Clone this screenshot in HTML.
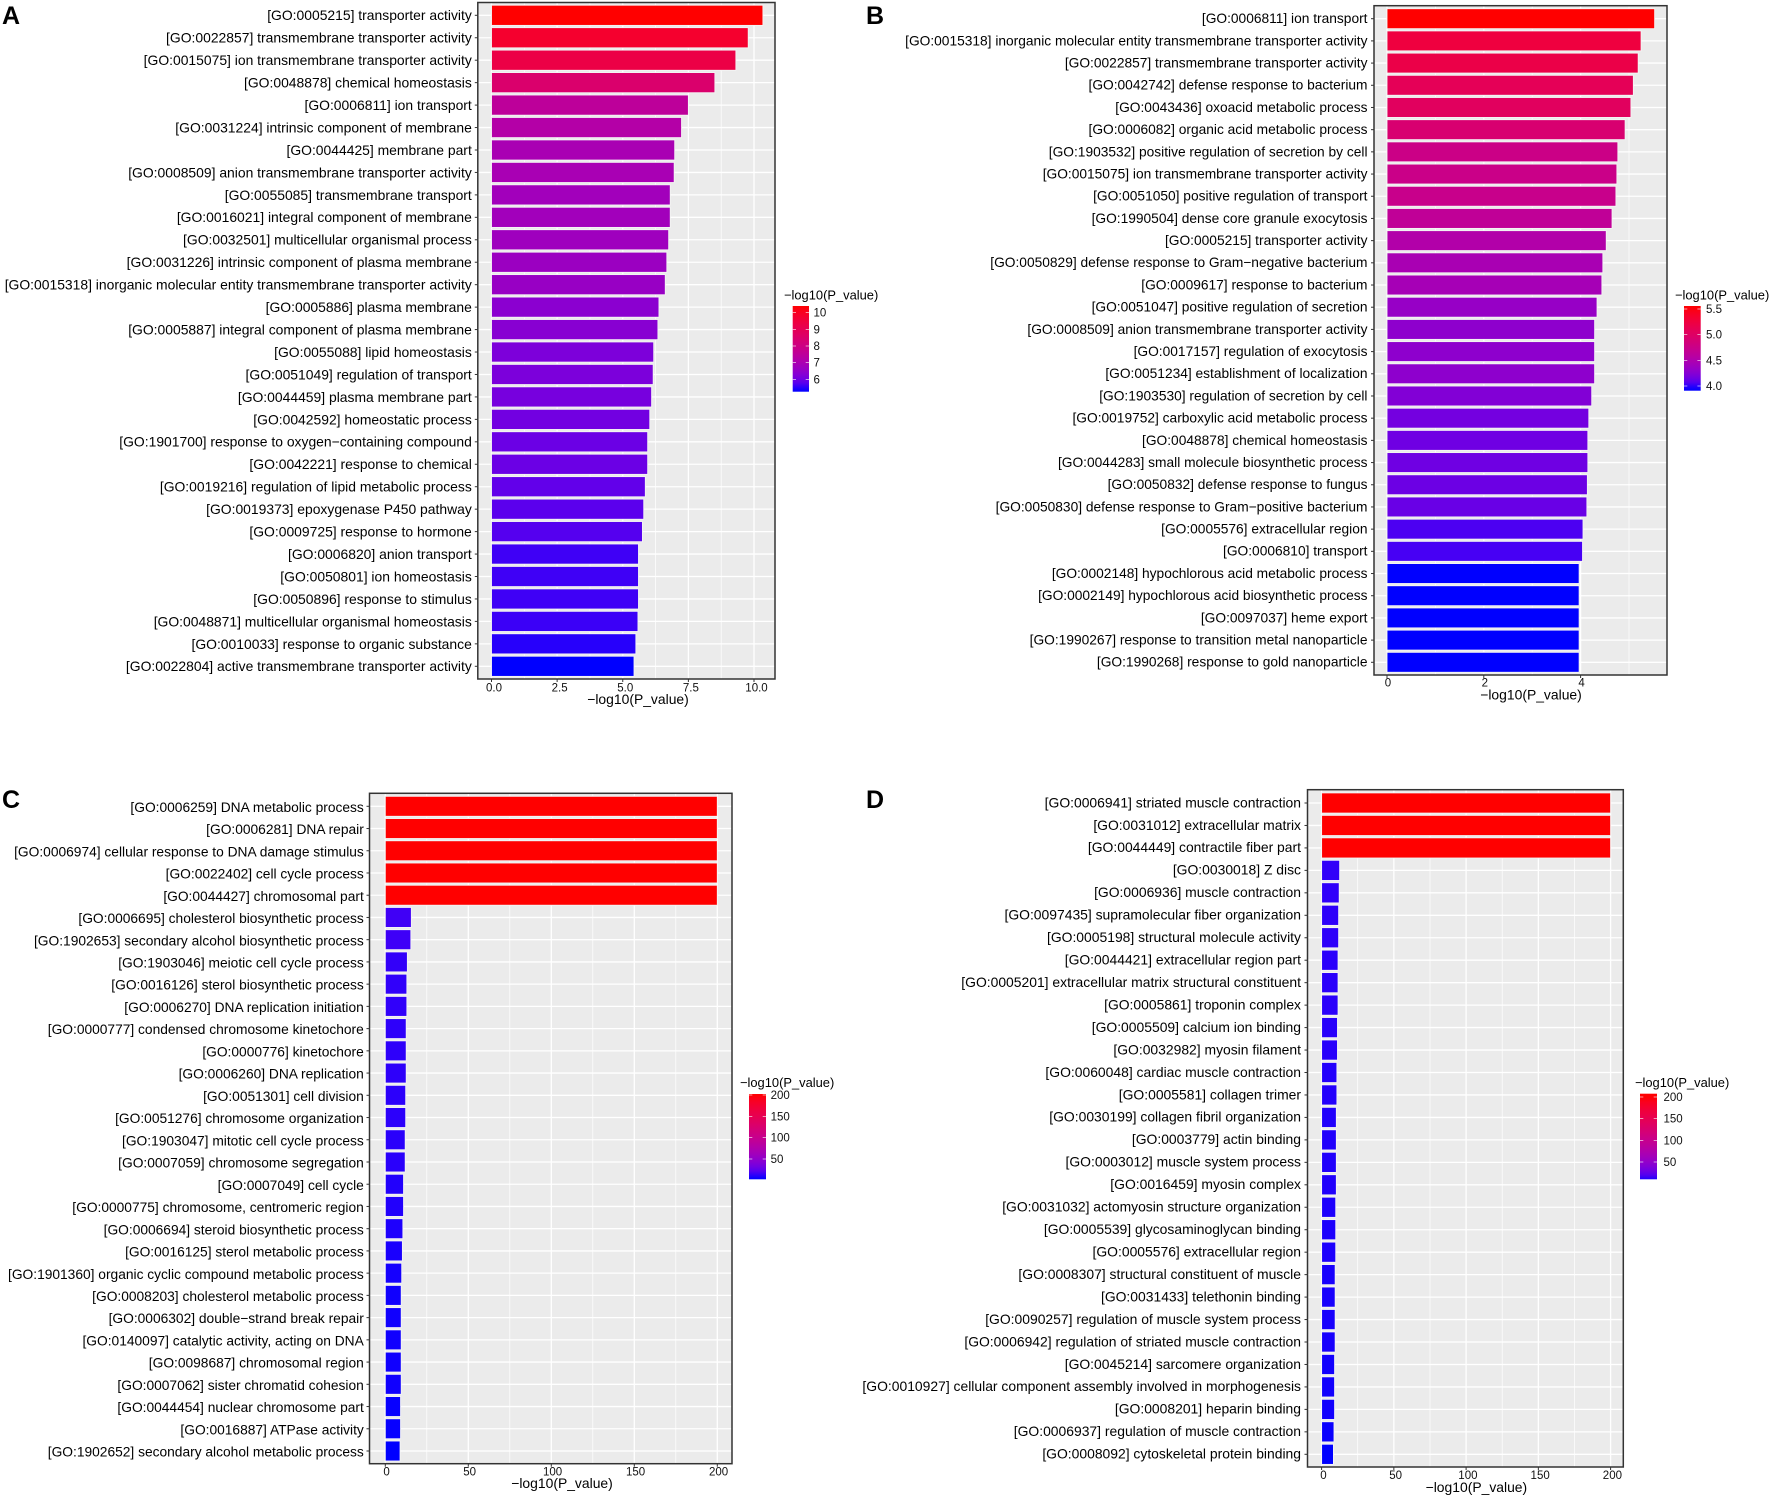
<!DOCTYPE html>
<html lang="en">
<head>
<meta charset="utf-8">
<title>GO enrichment bar charts</title>
<style>
html,body{margin:0;padding:0;background:#fff;}
body{width:1772px;height:1499px;overflow:hidden;}
svg{display:block;font-family:"Liberation Sans",Arial,sans-serif;}
</style>
</head>
<body>
<svg id="figure" xmlns="http://www.w3.org/2000/svg" width="1772" height="1499" viewBox="0 0 1772 1499">
<rect x="0" y="0" width="1772" height="1499" fill="#ffffff"/>
<defs id="gradients"></defs>
</svg>
<script>
const categoriesA = ["[GO:0005215] transporter activity","[GO:0022857] transmembrane transporter activity","[GO:0015075] ion transmembrane transporter activity","[GO:0048878] chemical homeostasis","[GO:0006811] ion transport","[GO:0031224] intrinsic component of membrane","[GO:0044425] membrane part","[GO:0008509] anion transmembrane transporter activity","[GO:0055085] transmembrane transport","[GO:0016021] integral component of membrane","[GO:0032501] multicellular organismal process","[GO:0031226] intrinsic component of plasma membrane","[GO:0015318] inorganic molecular entity transmembrane transporter activity","[GO:0005886] plasma membrane","[GO:0005887] integral component of plasma membrane","[GO:0055088] lipid homeostasis","[GO:0051049] regulation of transport","[GO:0044459] plasma membrane part","[GO:0042592] homeostatic process","[GO:1901700] response to oxygen−containing compound","[GO:0042221] response to chemical","[GO:0019216] regulation of lipid metabolic process","[GO:0019373] epoxygenase P450 pathway","[GO:0009725] response to hormone","[GO:0006820] anion transport","[GO:0050801] ion homeostasis","[GO:0050896] response to stimulus","[GO:0048871] multicellular organismal homeostasis","[GO:0010033] response to organic substance","[GO:0022804] active transmembrane transporter activity"];
const valuesA = [10.34,9.78,9.31,8.51,7.5,7.24,6.98,6.96,6.81,6.81,6.75,6.68,6.62,6.38,6.34,6.18,6.16,6.10,6.03,5.95,5.95,5.86,5.80,5.75,5.60,5.60,5.60,5.58,5.50,5.43];
const xTicksA = [0,2.5,5,7.5,10];
const legendTicksA = [10,9,8,7,6];

const categoriesB = ["[GO:0006811] ion transport","[GO:0015318] inorganic molecular entity transmembrane transporter activity","[GO:0022857] transmembrane transporter activity","[GO:0042742] defense response to bacterium","[GO:0043436] oxoacid metabolic process","[GO:0006082] organic acid metabolic process","[GO:1903532] positive regulation of secretion by cell","[GO:0015075] ion transmembrane transporter activity","[GO:0051050] positive regulation of transport","[GO:1990504] dense core granule exocytosis","[GO:0005215] transporter activity","[GO:0050829] defense response to Gram−negative bacterium","[GO:0009617] response to bacterium","[GO:0051047] positive regulation of secretion","[GO:0008509] anion transmembrane transporter activity","[GO:0017157] regulation of exocytosis","[GO:0051234] establishment of localization","[GO:1903530] regulation of secretion by cell","[GO:0019752] carboxylic acid metabolic process","[GO:0048878] chemical homeostasis","[GO:0044283] small molecule biosynthetic process","[GO:0050832] defense response to fungus","[GO:0050830] defense response to Gram−positive bacterium","[GO:0005576] extracellular region","[GO:0006810] transport","[GO:0002148] hypochlorous acid metabolic process","[GO:0002149] hypochlorous acid biosynthetic process","[GO:0097037] heme export","[GO:1990267] response to transition metal nanoparticle","[GO:1990268] response to gold nanoparticle"];
const valuesB = [5.53,5.25,5.19,5.09,5.04,4.92,4.77,4.75,4.73,4.65,4.53,4.46,4.44,4.34,4.29,4.29,4.29,4.23,4.17,4.15,4.15,4.14,4.13,4.05,4.04,3.97,3.97,3.97,3.97,3.97];
const xTicksB = [0,2,4];
const legendTicksB = [5.5,5,4.5,4];

const categoriesC = ["[GO:0006259] DNA metabolic process","[GO:0006281] DNA repair","[GO:0006974] cellular response to DNA damage stimulus","[GO:0022402] cell cycle process","[GO:0044427] chromosomal part","[GO:0006695] cholesterol biosynthetic process","[GO:1902653] secondary alcohol biosynthetic process","[GO:1903046] meiotic cell cycle process","[GO:0016126] sterol biosynthetic process","[GO:0006270] DNA replication initiation","[GO:0000777] condensed chromosome kinetochore","[GO:0000776] kinetochore","[GO:0006260] DNA replication","[GO:0051301] cell division","[GO:0051276] chromosome organization","[GO:1903047] mitotic cell cycle process","[GO:0007059] chromosome segregation","[GO:0007049] cell cycle","[GO:0000775] chromosome, centromeric region","[GO:0006694] steroid biosynthetic process","[GO:0016125] sterol metabolic process","[GO:1901360] organic cyclic compound metabolic process","[GO:0008203] cholesterol metabolic process","[GO:0006302] double−strand break repair","[GO:0140097] catalytic activity, acting on DNA","[GO:0098687] chromosomal region","[GO:0007062] sister chromatid cohesion","[GO:0044454] nuclear chromosome part","[GO:0016887] ATPase activity","[GO:1902652] secondary alcohol metabolic process"];
const valuesC = [200,200,200,200,200,15.7,15.4,13.3,13.0,13.0,12.6,12.6,12.6,12.3,12.3,12.0,12.0,11.0,11.0,10.6,10.3,9.9,9.6,9.6,9.6,9.6,9.6,9.2,9.2,8.9];
const xTicksC = [0,50,100,150,200];
const legendTicksC = [200,150,100,50];

const categoriesD = ["[GO:0006941] striated muscle contraction","[GO:0031012] extracellular matrix","[GO:0044449] contractile fiber part","[GO:0030018] Z disc","[GO:0006936] muscle contraction","[GO:0097435] supramolecular fiber organization","[GO:0005198] structural molecule activity","[GO:0044421] extracellular region part","[GO:0005201] extracellular matrix structural constituent","[GO:0005861] troponin complex","[GO:0005509] calcium ion binding","[GO:0032982] myosin filament","[GO:0060048] cardiac muscle contraction","[GO:0005581] collagen trimer","[GO:0030199] collagen fibril organization","[GO:0003779] actin binding","[GO:0003012] muscle system process","[GO:0016459] myosin complex","[GO:0031032] actomyosin structure organization","[GO:0005539] glycosaminoglycan binding","[GO:0005576] extracellular region","[GO:0008307] structural constituent of muscle","[GO:0031433] telethonin binding","[GO:0090257] regulation of muscle system process","[GO:0006942] regulation of striated muscle contraction","[GO:0045214] sarcomere organization","[GO:0010927] cellular component assembly involved in morphogenesis","[GO:0008201] heparin binding","[GO:0006937] regulation of muscle contraction","[GO:0008092] cytoskeletal protein binding"];
const valuesD = [200,200,200,12.5,12.2,11.8,11.8,11.4,11.4,11.4,11.0,11.0,10.6,10.6,10.2,10.2,10.2,10.2,9.8,9.8,9.8,9.4,9.4,9.4,9.4,9.0,9.0,9.0,8.6,8.2];
const xTicksD = [0,50,100,150,200];
const legendTicksD = [200,150,100,50];

const axisTitle = "−log10(P_value)";
const legendTitle = "−log10(P_value)";

const NS = "http://www.w3.org/2000/svg";
const root = document.getElementById("figure");
const defs = document.getElementById("gradients");

function make(tag, parent, attrs, text) {
  const el = document.createElementNS(NS, tag);
  for (const k in attrs) el.setAttribute(k, attrs[k]);
  if (text !== undefined) el.textContent = text;
  parent.appendChild(el);
  return el;
}

function srgbToLab(c) {
  const lin = c.map(v => { v /= 255; return v > 0.04045 ? Math.pow((v + 0.055) / 1.055, 2.4) : v / 12.92; });
  const X = (0.4124564 * lin[0] + 0.3575761 * lin[1] + 0.1804375 * lin[2]) / 0.95047;
  const Y = 0.2126729 * lin[0] + 0.7151522 * lin[1] + 0.0721750 * lin[2];
  const Z = (0.0193339 * lin[0] + 0.1191920 * lin[1] + 0.9503041 * lin[2]) / 1.08883;
  const f = t => t > 0.008856 ? Math.cbrt(t) : 7.787 * t + 16 / 116;
  return [116 * f(Y) - 16, 500 * (f(X) - f(Y)), 200 * (f(Y) - f(Z))];
}
function labToCss(l) {
  const fy = (l[0] + 16) / 116, fx = l[1] / 500 + fy, fz = fy - l[2] / 200;
  const g = t => t * t * t > 0.008856 ? t * t * t : (t - 16 / 116) / 7.787;
  const X = g(fx) * 0.95047, Y = g(fy), Z = g(fz) * 1.08883;
  const rgb = [
    3.2404542 * X - 1.5371385 * Y - 0.4985314 * Z,
    -0.9692660 * X + 1.8760108 * Y + 0.0415560 * Z,
    0.0556434 * X - 0.2040259 * Y + 1.0572252 * Z
  ].map(v => {
    v = Math.max(0, Math.min(1, v));
    v = v > 0.0031308 ? 1.055 * Math.pow(v, 1 / 2.4) - 0.055 : 12.92 * v;
    return Math.round(v * 255);
  });
  return "rgb(" + rgb.join(",") + ")";
}
const labLow = srgbToLab([0, 0, 255]);
const labHigh = srgbToLab([255, 0, 0]);
function colorAt(t) {
  t = Math.max(0, Math.min(1, t));
  return labToCss(labLow.map((v, i) => v + (labHigh[i] - v) * t));
}

function drawPanel(p) {
  const id = p.id;
  const lo = Math.min.apply(null, p.values);
  const hi = Math.max.apply(null, p.values);
  const fill = v => colorAt((v - lo) / ((hi - lo) || 1));
  const xScale = v => p.x0 + v * p.pxPerUnit;
  const yBand = i => p.firstY + i * (p.lastY - p.firstY) / (p.categories.length - 1);
  const bandH = (p.lastY - p.firstY) / (p.categories.length - 1);
  const legendY = v => p.legY1 + (p.legV1 - v) * (p.legY2 - p.legY1) / (p.legV1 - p.legV2);

  const g = make("g", root, {});
  
  

  const letter = make("text", g, {x: p.letterX, y: p.letterY, "font-size": 25, "font-weight": "bold", fill: "#000"}, id.toUpperCase());
  
  

  const bg = make("rect", g, {x: p.left, y: p.top, width: p.right - p.left, height: p.bottom - p.top, fill: "#ebebeb"});
  
  

  const step = p.xTicks[1] - p.xTicks[0];
  for (let m = p.xTicks[0] + step / 2; xScale(m) < p.right; m += step) {
    const minor = make("line", g, {x1: xScale(m), x2: xScale(m), y1: p.top, y2: p.bottom, stroke: "#fff", "stroke-width": 0.7});
    
    
  }
  p.xTicks.forEach(t => {
    const major = make("line", g, {x1: xScale(t), x2: xScale(t), y1: p.top, y2: p.bottom, stroke: "#fff", "stroke-width": 1.3});
    
    
  });

  p.categories.forEach((c, i) => {
    const y = yBand(i);
    const hg = make("line", g, {x1: p.left, x2: p.right, y1: y, y2: y, stroke: "#fff", "stroke-width": 1.3});
    
    
  });

  p.values.forEach((v, i) => {
    const h = bandH * 0.9;
    const bar = make("rect", g, {x: xScale(0), y: yBand(i) - h / 2, width: xScale(v) - xScale(0), height: h, fill: fill(v), stroke: "#f4f4f4", "stroke-width": 0.9});
    
    
  });

  p.categories.forEach((c, i) => {
    const y = yBand(i);
    const tick = make("line", g, {x1: p.left - 3, x2: p.left, y1: y, y2: y, stroke: "#333", "stroke-width": 1});
    
    
    const label = make("text", g, {x: p.left - 5 + p.labelDx, y: y + 4.9 + p.labelDy, "text-anchor": "end", "font-size": p.labelSize, fill: "#000"}, c);
    
    
  });

  const border = make("rect", g, {x: p.left, y: p.top, width: p.right - p.left, height: p.bottom - p.top, fill: "none", stroke: "#333", "stroke-width": 1.5});
  
  

  p.xTicks.forEach(t => {
    const tick = make("line", g, {x1: xScale(t), x2: xScale(t), y1: p.bottom, y2: p.bottom + 3, stroke: "#333", "stroke-width": 1});
    
    
    const lab = make("text", g, {x: xScale(t) + p.tickDx, y: p.tickLabelY + 4, "text-anchor": "middle", "font-size": 11.5, fill: "#111"}, p.tickDigits ? t.toFixed(p.tickDigits) : String(t));
    
    
  });

  const title = make("text", g, {x: p.titleX, y: p.titleY + 5, "text-anchor": "middle", "font-size": 13.9, fill: "#000"}, axisTitle);
  
  

  const gradId = "legend-gradient-" + id;
  const grad = make("linearGradient", defs, {id: gradId, x1: 0, x2: 0, y1: 0, y2: 1});
  for (let s = 0; s <= 20; s++) {
    const yy = p.legTop + (p.legBottom - p.legTop) * s / 20;
    const val = p.legV1 + (yy - p.legY1) * (p.legV2 - p.legV1) / (p.legY2 - p.legY1);
    make("stop", grad, {offset: (s * 5) + "%", "stop-color": fill(val)});
  }
  const legTitle = make("text", g, {x: p.legTitleX, y: p.legTitleY + 4.5, "font-size": 12.9, fill: "#000"}, legendTitle);
  
  
  const legBar = make("rect", g, {x: p.legLeft, y: p.legTop, width: p.legWidth, height: p.legBottom - p.legTop, fill: "url(#" + gradId + ")"});
  
  
  p.legendTicks.forEach(t => {
    const y = legendY(t);
    const a = make("line", g, {x1: p.legLeft, x2: p.legLeft + 3.3, y1: y, y2: y, stroke: "#fff", "stroke-width": 0.6});
    
    
    const b = make("line", g, {x1: p.legLeft + p.legWidth - 3.3, x2: p.legLeft + p.legWidth, y1: y, y2: y, stroke: "#fff", "stroke-width": 0.6});
    
    
    const lab = make("text", g, {x: p.legLabelX, y: y + 4, "font-size": 11.5, fill: "#111"}, p.legDigits ? t.toFixed(p.legDigits) : String(t));
    
    
  });
}

drawPanel({id: "a", categories: categoriesA, values: valuesA, xTicks: xTicksA, legendTicks: legendTicksA,
  letterX: 2, letterY: 24, left: 477.8, right: 775, top: 2.5, bottom: 679, x0: 491.5, pxPerUnit: 26.25, firstY: 15.3, lastY: 666.3,
  labelSize: 13.9, labelDx: -1, labelDy: 0, tickDx: 2.5, tickDigits: 1, tickLabelY: 687.3, titleX: 638, titleY: 699,
  legTitleX: 784, legTitleY: 295, legLeft: 792.7, legWidth: 16.3, legTop: 306, legBottom: 391.7, legV1: 10, legY1: 312.7, legV2: 6, legY2: 379.3, legLabelX: 813.5, legDigits: 0});
drawPanel({id: "b", categories: categoriesB, values: valuesB, xTicks: xTicksB, legendTicks: legendTicksB,
  letterX: 866, letterY: 24, left: 1374, right: 1667, top: 5.7, bottom: 675, x0: 1387, pxPerUnit: 48.4, firstY: 18.7, lastY: 662.3,
  labelSize: 13.75, labelDx: -1.5, labelDy: -0.5, tickDx: 1, tickDigits: 0, tickLabelY: 682.7, titleX: 1531, titleY: 694.7,
  legTitleX: 1675, legTitleY: 295, legLeft: 1684, legWidth: 16.7, legTop: 306, legBottom: 390.7, legV1: 5.5, legY1: 309, legV2: 4, legY2: 386, legLabelX: 1706, legDigits: 1});
drawPanel({id: "c", categories: categoriesC, values: valuesC, xTicks: xTicksC, legendTicks: legendTicksC,
  letterX: 2, letterY: 808, left: 369.5, right: 732, top: 793.3, bottom: 1463.7, x0: 385.3, pxPerUnit: 1.66, firstY: 806.3, lastY: 1451,
  labelSize: 13.78, labelDx: -0.7, labelDy: 0.7, tickDx: 1.3, tickDigits: 0, tickLabelY: 1471.3, titleX: 562, titleY: 1483,
  legTitleX: 740, legTitleY: 1082.7, legLeft: 749, legWidth: 17, legTop: 1094, legBottom: 1179.3, legV1: 200, legY1: 1095, legV2: 50, legY2: 1159, legLabelX: 770.6, legDigits: 0});
drawPanel({id: "d", categories: categoriesD, values: valuesD, xTicks: xTicksD, legendTicks: legendTicksD,
  letterX: 866, letterY: 808, left: 1307.5, right: 1623.3, top: 789.7, bottom: 1467, x0: 1321.6, pxPerUnit: 1.445, firstY: 803, lastY: 1454.3,
  labelSize: 13.9, labelDx: -1.5, labelDy: -0.6, tickDx: 1.8, tickDigits: 0, tickLabelY: 1475, titleX: 1476.4, titleY: 1487,
  legTitleX: 1635, legTitleY: 1082.7, legLeft: 1640, legWidth: 17, legTop: 1093.7, legBottom: 1179.3, legV1: 200, legY1: 1097, legV2: 50, legY2: 1162, legLabelX: 1663.5, legDigits: 0});
</script>
</body>
</html>
